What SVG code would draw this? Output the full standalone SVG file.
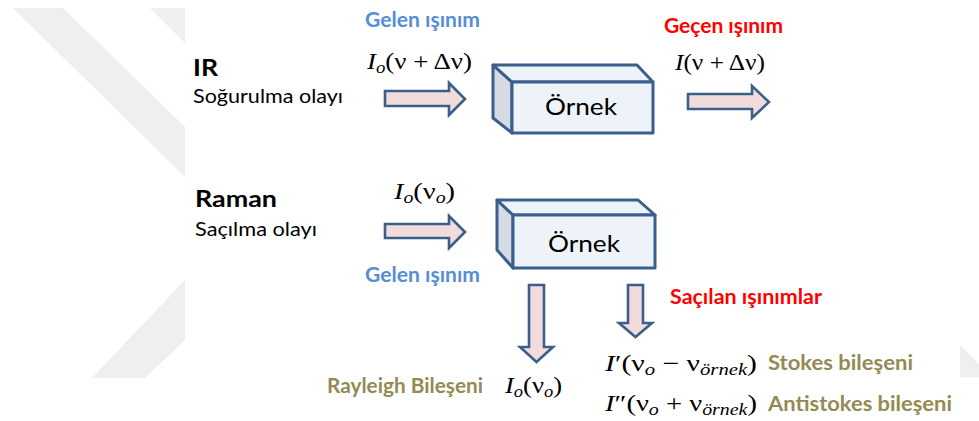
<svg xmlns="http://www.w3.org/2000/svg" width="979" height="421" viewBox="0 0 979 421">
<style>
.bg{fill:#efefef}
.arrow{fill:#f2dcdb;stroke:#3b5f8c;stroke-width:2.6;stroke-linejoin:miter}
.front{fill:#eef3fa;stroke:#3b5f8c;stroke-width:3;stroke-linejoin:round}
.side{fill:#d6dbe3;stroke:#3b5f8c;stroke-width:3;stroke-linejoin:round}
.sans{font-family:Lato,"Open Sans","Liberation Sans",sans-serif}
.b{font-weight:bold}
.blue{fill:#558ed5}
.red{fill:#ff0000}
.olive{fill:#948a54}
.blk{fill:#000}
.math{font-family:"Liberation Serif","DejaVu Serif",serif;font-size:23px;fill:#000}
.it{font-style:italic}
</style>
<rect width="979" height="421" fill="#ffffff"/>
<g id="watermark">
<polygon class="bg" points="13,8 63,8 185,127 185,177"/>
<polygon class="bg" points="150,8 185,8 185,43"/>
<polygon class="bg" points="185,280 185,340 145,378 92,378"/>
<polygon class="bg" points="960,345 979,364 979,377 960,377"/>
</g>
<g id="connectors">
<polygon id="arrow-ir-in" class="arrow" points="385,91 449,91 449,83 465,99 449,115 449,106 385,106"/>
<polygon id="arrow-ir-out" class="arrow" points="688,94 752,94 752,86 769,102 752,118 752,109 688,109"/>
<polygon id="arrow-raman-in" class="arrow" points="385,224 449,224 449,216 465,232 449,248 449,238 385,238"/>
<polygon id="arrow-rayleigh" class="arrow" points="529,285 544,285 544,347 553,347 536.5,362 520,347 529,347"/>
<polygon id="arrow-scattered" class="arrow" points="628,285 643,285 643,323 652,323 635.5,337 619,323 628,323"/>
</g>
<g id="ir-label">
<text class="sans b blk" x="193" y="76" font-size="23" textLength="25" lengthAdjust="spacingAndGlyphs">IR</text>
<text class="sans blk" x="193" y="103" font-size="20" textLength="150" lengthAdjust="spacingAndGlyphs">Soğurulma olayı</text>
</g>
<g id="ir-incident">
<text class="sans b blue" x="365" y="27" font-size="20" textLength="115" lengthAdjust="spacingAndGlyphs">Gelen ışınım</text>
<text class="math" x="367" y="69" textLength="105" lengthAdjust="spacingAndGlyphs"><tspan class="it">I</tspan><tspan class="it" font-size="16" dy="4">o</tspan><tspan dy="-4">(ν + Δν)</tspan></text>
</g>
<g id="box-ir">
<polygon class="side" points="493,65 512,82 512,133 493,118"/>
<polygon class="front" points="493,65 637,65 653,82 512,82"/>
<rect class="front" x="512" y="82" width="141" height="51"/>
<text class="sans blk" x="545" y="115" font-size="23" textLength="72" lengthAdjust="spacingAndGlyphs">Örnek</text>
</g>
<g id="ir-transmitted">
<text class="sans b red" x="664" y="33" font-size="20" textLength="119" lengthAdjust="spacingAndGlyphs">Geçen ışınım</text>
<text class="math" x="675" y="70" textLength="90" lengthAdjust="spacingAndGlyphs"><tspan class="it">I</tspan>(ν + Δν)</text>
</g>
<g id="raman-label">
<text class="sans b blk" x="195" y="207" font-size="23" textLength="82" lengthAdjust="spacingAndGlyphs">Raman</text>
<text class="sans blk" x="195" y="236" font-size="20" textLength="122" lengthAdjust="spacingAndGlyphs">Saçılma olayı</text>
</g>
<g id="raman-incident">
<text class="math" x="394" y="199" textLength="61" lengthAdjust="spacingAndGlyphs"><tspan class="it">I</tspan><tspan class="it" font-size="16" dy="4">o</tspan><tspan dy="-4">(ν</tspan><tspan class="it" font-size="16" dy="4">o</tspan><tspan dy="-4">)</tspan></text>
<text class="sans b blue" x="365" y="282" font-size="20" textLength="115" lengthAdjust="spacingAndGlyphs">Gelen ışınım</text>
</g>
<g id="box-raman">
<polygon class="side" points="497,200 513,215 513,268 497,250"/>
<polygon class="front" points="497,200 638,200 655,215 513,215"/>
<rect class="front" x="513" y="215" width="142" height="53"/>
<text class="sans blk" x="548" y="252" font-size="23" textLength="72" lengthAdjust="spacingAndGlyphs">Örnek</text>
</g>
<g id="scattered">
<text class="sans b red" x="670" y="304" font-size="20" textLength="152" lengthAdjust="spacingAndGlyphs">Saçılan ışınımlar</text>
</g>
<g id="rayleigh">
<text class="sans b olive" x="327" y="393" font-size="20" textLength="156" lengthAdjust="spacingAndGlyphs">Rayleigh Bileşeni</text>
<text class="math" x="505" y="393" textLength="57" lengthAdjust="spacingAndGlyphs"><tspan class="it">I</tspan><tspan class="it" font-size="16" dy="4">o</tspan><tspan dy="-4">(ν</tspan><tspan class="it" font-size="16" dy="4">o</tspan><tspan dy="-4">)</tspan></text>
</g>
<g id="stokes">
<text class="math" x="605" y="371" textLength="152" lengthAdjust="spacingAndGlyphs"><tspan class="it">I</tspan>′(ν<tspan class="it" font-size="16" dy="4">o</tspan><tspan dy="-4"> − ν</tspan><tspan class="it" font-size="16" dy="4">örnek</tspan><tspan dy="-4">)</tspan></text>
<text class="sans b olive" x="768" y="370" font-size="20" textLength="145" lengthAdjust="spacingAndGlyphs">Stokes bileşeni</text>
</g>
<g id="antistokes">
<text class="math" x="605" y="411" textLength="152" lengthAdjust="spacingAndGlyphs"><tspan class="it">I</tspan>″(ν<tspan class="it" font-size="16" dy="4">o</tspan><tspan dy="-4"> + ν</tspan><tspan class="it" font-size="16" dy="4">örnek</tspan><tspan dy="-4">)</tspan></text>
<text class="sans b olive" x="768" y="411" font-size="20" textLength="184" lengthAdjust="spacingAndGlyphs">Antistokes bileşeni</text>
</g>
</svg>
